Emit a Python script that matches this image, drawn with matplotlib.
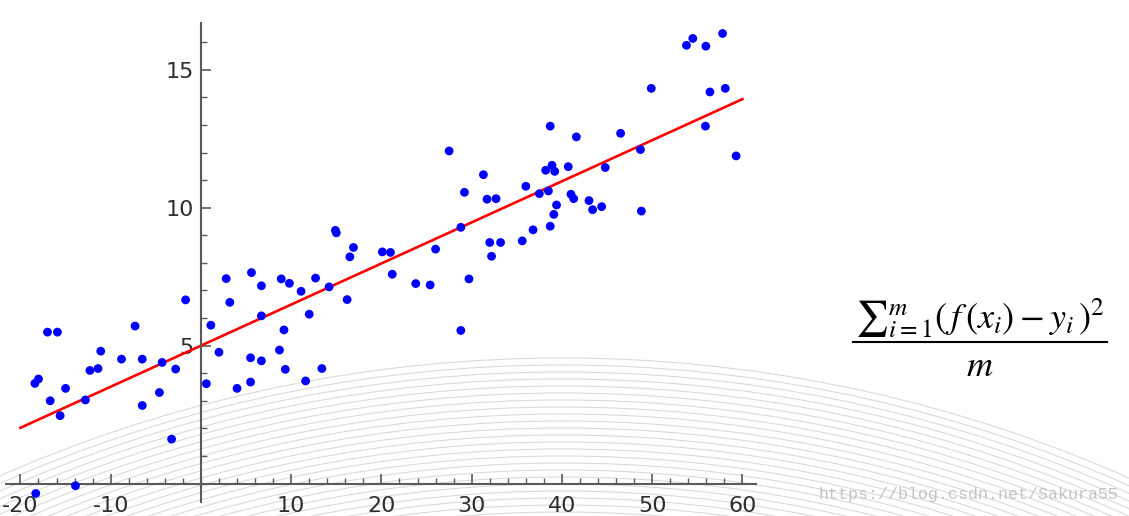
import numpy as np
import matplotlib
matplotlib.use("Agg")
import matplotlib.pyplot as plt
from matplotlib.patches import Arc, Rectangle

# scatter
xs = [-17.0, -15.9, -18.4, -18.0, -16.7, -15.6, -15.0, -18.3, -13.9, -12.8,
      -12.3, -11.4, -11.1, -8.8, -7.3, -6.5, -6.5, -4.6, -4.3, -3.25,
      -2.8, -1.7, 0.6, 1.1, 2.0, 2.8, 3.2, 4.0, 5.5, 5.5,
      5.6, 6.7, 6.7, 6.7, 8.7, 8.9, 9.2, 9.35, 9.8, 11.1,
      11.6, 12.0, 12.7, 13.4, 14.2, 16.2, 14.9, 15.0, 16.9, 16.5,
      20.1, 21.0, 21.2, 23.8, 25.4, 26.0, 28.8, 29.7, 28.8, 27.5,
      29.2, 31.3, 31.7, 32.7, 32.0, 33.2, 32.2, 35.6, 36.8, 36.0,
      37.5, 38.5, 38.7, 39.1, 39.4, 38.7, 38.2, 38.9, 39.2, 40.7,
      41.0, 41.3, 41.6, 43.0, 43.4, 44.4, 44.8, 46.5, 48.7, 48.8,
      49.9, 53.8, 54.5, 55.95, 57.8, 56.4, 58.1, 55.9, 59.3]
ys = [5.49, 5.49, 3.63, 3.79, 3.00, 2.46, 3.45, -0.36, -0.08, 3.03,
      4.10, 4.17, 4.80, 4.51, 5.71, 4.51, 2.83, 3.30, 4.39, 1.61,
      4.15, 6.66, 3.62, 5.74, 4.76, 7.43, 6.57, 3.45, 4.56, 3.68,
      7.65, 7.17, 6.08, 4.45, 4.84, 7.42, 5.57, 4.14, 7.26, 6.97,
      3.72, 6.14, 7.45, 4.17, 7.13, 6.67, 9.18, 9.09, 8.56, 8.22,
      8.40, 8.38, 7.59, 7.25, 7.20, 8.50, 5.55, 7.42, 9.29, 12.06,
      10.56, 11.20, 10.31, 10.33, 8.74, 8.74, 8.24, 8.80, 9.20, 10.78,
      10.51, 10.61, 9.33, 9.76, 10.10, 12.96, 11.36, 11.54, 11.32, 11.49,
      10.49, 10.33, 12.57, 10.26, 9.93, 10.04, 11.46, 12.70, 12.11, 9.88,
      14.33, 15.89, 16.14, 15.86, 16.32, 14.20, 14.33, 12.96, 11.88]

# fitted line end points
fit_x = [-20, 60]
fit_y = [2.02, 13.94]

x_ticks = [-20, -10, 10, 20, 30, 40, 50, 60]
y_ticks = [5, 10, 15]

C_PT, C_LINE, C_AXIS, C_TXT, C_ARC = "#0000ff", "#ff0000", "#5a5a5a", "#2e2e2e", "#dadada"

plt.rcParams["axes.unicode_minus"] = False
plt.rcParams["mathtext.fontset"] = "stix"

fig = plt.figure(figsize=(11.29, 5.16), dpi=100)

# faint concentric arcs in the background (pixel space)
bg = fig.add_axes([0, 0, 1, 1], zorder=-1)
bg.set_xlim(0, 1129); bg.set_ylim(516, 0); bg.axis("off")
cx, top, R = 562, 358, 1400
for k in range(24):
    r = R - 7 * k
    bg.add_patch(Arc((cx, top + R), 2 * r, 2 * r, theta1=180, theta2=360,
                     color=C_ARC, lw=0.8))
bg.add_patch(Rectangle((837, 0), 300, 382, color="white", lw=0))

ax = fig.add_axes([0.0053, 0.0277, 0.6643, 0.9277])
ax.patch.set_alpha(0)
ax.set_xlim(-21.6, 61.5)
ax.set_ylim(-0.66, 16.7)

ax.plot(fit_x, fit_y, color=C_LINE, lw=1.9, zorder=2)
ax.scatter(xs, ys, s=40, color=C_PT, edgecolors="none", zorder=3)

for sp in ("top", "right"):
    ax.spines[sp].set_visible(False)
for sp in ("left", "bottom"):
    ax.spines[sp].set_position("zero")
    ax.spines[sp].set_color(C_AXIS)
    ax.spines[sp].set_linewidth(1.5)

ax.set_xticks(x_ticks)
ax.set_yticks(y_ticks)
ax.set_xticks(np.arange(-20, 61, 2), minor=True)
ax.set_yticks(np.arange(0, 17, 1), minor=True)
ax.tick_params(which="major", direction="in", length=7, width=1.2, colors=C_AXIS,
               labelsize=16, labelcolor=C_TXT, pad=9)
ax.tick_params(which="minor", direction="in", length=4, width=1.0, colors=C_AXIS)
ax.tick_params(axis="y", pad=5)

fig.text(0.868, 1 - 318 / 516, r"${\sum}_{i=1}^{m}(\,f\,(x_i)-y_i\,)^2$", ha="center", va="center",
         fontsize=26, color="black")
fig.add_artist(plt.Line2D([853 / 1129, 1107 / 1129], [1 - 342 / 516] * 2,
                          color="black", lw=1.5, transform=fig.transFigure))
fig.text(0.868, 1 - 366 / 516, r"$m$", ha="center", va="center", fontsize=26, color="black")

fig.text(818 / 1129, 1 - 494 / 516, "https://blog.csdn.net/Sakura55", ha="left", va="center",
         fontsize=12, color="#c4c4c4", family=["Liberation Mono", "DejaVu Sans Mono"])

fig.savefig("out.png", dpi=100)
